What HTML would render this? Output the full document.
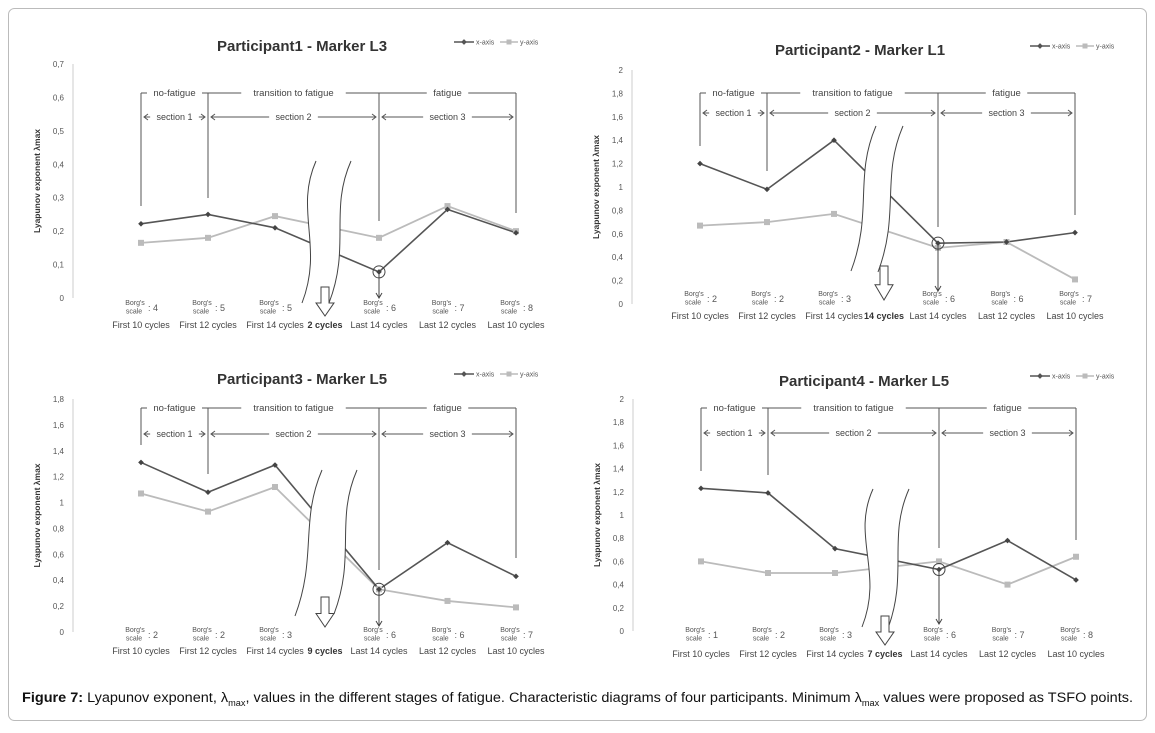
<!DOCTYPE html>
<html><head><meta charset="utf-8"><style>
html,body{margin:0;padding:0;background:#fff;}
svg{display:block;font-family:"Liberation Sans",sans-serif;}
</style></head><body>
<svg id="fig" width="1155" height="733" viewBox="0 0 1155 733" xmlns="http://www.w3.org/2000/svg">
<rect x="8.5" y="8.5" width="1138" height="712" rx="6" fill="#fff" stroke="#bbb"/>
<text x="22" y="702" font-size="14.2" fill="#111" textLength="1111" lengthAdjust="spacingAndGlyphs"><tspan font-weight="bold">Figure 7:</tspan> Lyapunov exponent, λ<tspan font-size="9" dy="4">max</tspan><tspan dy="-4">, values in the different stages of fatigue. Characteristic diagrams of four participants. Minimum λ</tspan><tspan font-size="9" dy="4">max</tspan><tspan dy="-4"> values were proposed as TSFO points.</tspan></text>
</svg>
<script>
// ---- data ----
const categories = ["First 10 cycles","First 12 cycles","First 14 cycles","BREAK","Last 14 cycles","Last 12 cycles","Last 10 cycles"];
const p1XAxis = [0.222, 0.25, 0.21, null, 0.078, 0.265, 0.195];
const p1YAxis = [0.165, 0.18, 0.245, null, 0.18, 0.275, 0.2];
const p2XAxis = [1.2, 0.98, 1.4, null, 0.52, 0.53, 0.61];
const p2YAxis = [0.67, 0.7, 0.77, null, 0.48, 0.53, 0.21];
const p3XAxis = [1.31, 1.08, 1.29, null, 0.33, 0.69, 0.43];
const p3YAxis = [1.07, 0.93, 1.12, null, 0.33, 0.24, 0.19];
const p4XAxis = [1.23, 1.19, 0.71, null, 0.53, 0.78, 0.44];
const p4YAxis = [0.6, 0.5, 0.5, null, 0.6, 0.4, 0.64];
const p1Borg = [4,5,5,null,6,7,8];
const p2Borg = [2,2,3,null,6,6,7];
const p3Borg = [2,2,3,null,6,6,7];
const p4Borg = [1,2,3,null,6,7,8];
const breakLabels = ["2 cycles","14 cycles","9 cycles","7 cycles"];
const titles = ["Participant1 - Marker L3","Participant2 - Marker L1","Participant3 - Marker L5","Participant4 - Marker L5"];
const yMaxes = [0.7, 2, 1.8, 2];
const ySteps = [0.1, 0.2, 0.2, 0.2];

// ---- layout (pixels) ----
const layouts = [
 {ax:73, yTop:64, y0:298, tx:302, ty:51, lx:454, ly:42, borgY:305, cycY:328, brTop:93, secY:117, vEnd:[206,198,221,213], arrowEnd:298, brk:{lt:[316,161],lb:[302,303],rt:[351,161],rb:[329,303],ay:[287,316]}},
 {ax:632, yTop:70, y0:304, tx:860, ty:55, lx:1030, ly:46, borgY:296, cycY:319, brTop:93, secY:113, vEnd:[146,171,227,215], arrowEnd:291, brk:{lt:[876,126],lb:[851,271],rt:[903,126],rb:[878,272],ay:[266,300]}},
 {ax:73, yTop:399, y0:632, tx:302, ty:384, lx:454, ly:374, borgY:632, cycY:654, brTop:408, secY:434, vEnd:[445,474,570,558], arrowEnd:626, brk:{lt:[322,470],lb:[295,616],rt:[357,470],rb:[334,614],ay:[597,627]}},
 {ax:633, yTop:399, y0:631, tx:864, ty:386, lx:1030, ly:376, borgY:632, cycY:657, brTop:408, secY:433, vEnd:[471,475,548,540], arrowEnd:624, brk:{lt:[873,489],lb:[862,627],rt:[909,489],rb:[887,631],ay:[616,645]}}
];
const xSeries = [p1XAxis,p2XAxis,p3XAxis,p4XAxis];
const ySeries = [p1YAxis,p2YAxis,p3YAxis,p4YAxis];
const borgs = [p1Borg,p2Borg,p3Borg,p4Borg];

const NS="http://www.w3.org/2000/svg";
const svg=document.getElementById('fig');
function mk(tag,attrs,parent,txt){const e=document.createElementNS(NS,tag);for(const k in attrs)e.setAttribute(k,attrs[k]);if(txt!==undefined)e.textContent=txt;(parent||svg).appendChild(e);return e;}

layouts.forEach((L,pi)=>{
  const g=mk('g',{});
  
  
  const xPos=i=> i<=2 ? L.ax+68+67*i : (i===3 ? L.ax+252 : L.ax+306+68.5*(i-4));
  const yPos=v=> L.y0-(v/yMaxes[pi])*(L.y0-L.yTop);
  // title
  const t=mk('text',{x:L.tx,y:L.ty,'text-anchor':'middle','font-size':15,'font-weight':'bold',fill:'#333'},g,titles[pi]);
  
  
  // axis
  const ax=mk('line',{x1:L.ax,y1:L.yTop,x2:L.ax,y2:L.y0,stroke:'#ccc','stroke-width':1},g);
  
  
  const n=Math.round(yMaxes[pi]/ySteps[pi]);
  for(let k=0;k<=n;k++){
    const v=k*ySteps[pi];
    const lbl=(Math.round(v*10)/10).toString().replace('.',',');
    const tk=mk('text',{x:L.ax-9,y:yPos(v)+3,'text-anchor':'end','font-size':8,fill:'#555'},g,lbl);
    
    
  }
  const ym=(L.yTop+L.y0)/2;
  const yl=mk('text',{x:L.ax-33,y:ym,'text-anchor':'middle','font-size':8.5,'font-weight':'bold',fill:'#333',transform:`rotate(-90 ${L.ax-33} ${ym})`},g,'Lyapunov exponent λmax');
  
  
  // legend
  const lg=mk('g',{},g);
  
  
  mk('line',{x1:L.lx,y1:L.ly,x2:L.lx+20,y2:L.ly,stroke:'#555','stroke-width':1.5},lg);
  mk('rect',{x:L.lx+8,y:L.ly-2,width:4,height:4,fill:'#555',transform:`rotate(45 ${L.lx+10} ${L.ly})`},lg);
  mk('text',{x:L.lx+22,y:L.ly+2.5,'font-size':7,fill:'#555'},lg,'x-axis');
  mk('line',{x1:L.lx+46,y1:L.ly,x2:L.lx+64,y2:L.ly,stroke:'#bbb','stroke-width':1.5},lg);
  mk('rect',{x:L.lx+52.5,y:L.ly-2.5,width:5,height:5,fill:'#bbb'},lg);
  mk('text',{x:L.lx+66,y:L.ly+2.5,'font-size':7,fill:'#555'},lg,'y-axis');
  // brackets
  const bx=[xPos(0),xPos(1),xPos(4),xPos(6)];
  const bg=mk('g',{stroke:'#555','stroke-width':1,fill:'none'},g);
  
  
  mk('line',{x1:bx[0],y1:L.brTop,x2:bx[3],y2:L.brTop},bg);
  bx.forEach((x,j)=>mk('line',{x1:x,y1:L.brTop,x2:x,y2:L.vEnd[j]},bg));
  // section arrows
  const secs=[[bx[0],bx[1],'section 1'],[bx[1],bx[2],'section 2'],[bx[2],bx[3],'section 3']];
  secs.forEach(([a,b,s],j)=>{
    mk('line',{x1:a+3,y1:L.secY,x2:b-3,y2:L.secY},bg);
    mk('path',{d:`M${a+7} ${L.secY-3}L${a+3} ${L.secY}L${a+7} ${L.secY+3}M${b-7} ${L.secY-3}L${b-3} ${L.secY}L${b-7} ${L.secY+3}`},bg);
    const w=s.length*4.3+10;
    mk('rect',{x:(a+b)/2-w/2,y:L.secY-6,width:w,height:12,fill:'#fff',stroke:'none'},g);
    const st=mk('text',{x:(a+b)/2,y:L.secY+3,'text-anchor':'middle','font-size':9,fill:'#444'},g,s);
    
    
  });
  const stages=[[bx[0],bx[1],'no-fatigue'],[bx[1],bx[2],'transition to fatigue'],[bx[2],bx[3],'fatigue']];
  stages.forEach(([a,b,s])=>{
    const w=s.length*4.5+10;
    mk('rect',{x:(a+b)/2-w/2,y:L.brTop-6,width:w,height:12,fill:'#fff'},g);
    const st=mk('text',{x:(a+b)/2,y:L.brTop+3,'text-anchor':'middle','font-size':9.5,fill:'#444'},g,s);
    
    
  });
  // series lines (through break)
  const line=(vals,color,w,name)=>{
    const pts=[];vals.forEach((v,i)=>{if(v!==null)pts.push(xPos(i)+','+yPos(v));});
    const pl=mk('polyline',{points:pts.join(' '),fill:'none',stroke:color,'stroke-width':w},g);
    
    
  };
  line(ySeries[pi],'#bbb',1.8,'y-axis-series-line');
  line(xSeries[pi],'#555',1.6,'x-axis-series-line');
  ySeries[pi].forEach((v,i)=>{if(v===null)return;
    const m=mk('rect',{x:xPos(i)-3,y:yPos(v)-3,width:6,height:6,fill:'#bbb'},g);
    
    });
  xSeries[pi].forEach((v,i)=>{if(v===null)return;
    const m=mk('rect',{x:xPos(i)-2,y:yPos(v)-2,width:4,height:4,fill:'#444',transform:`rotate(45 ${xPos(i)} ${yPos(v)})`},g);
    
    });
  // minimum marker + arrow
  const mx=xPos(4), my=yPos(xSeries[pi][4]);
  const c=mk('circle',{cx:mx,cy:my,r:6,fill:'none',stroke:'#444','stroke-width':1},g);
  
  
  mk('line',{x1:mx,y1:my,x2:mx,y2:L.arrowEnd,stroke:'#444','stroke-width':1},g);
  mk('path',{d:`M${mx-3} ${L.arrowEnd-5}L${mx} ${L.arrowEnd}L${mx+3} ${L.arrowEnd-5}`,fill:'none',stroke:'#444'},g);
  // break
  const B=L.brk;
  const cv=(t,b)=>{const h=b[1]-t[1];return `C${t[0]-22} ${t[1]+h*0.35} ${b[0]+22} ${b[1]-h*0.4} ${b[0]} ${b[1]}`;};
  const cvr=(t,b)=>{const h=b[1]-t[1];return `C${b[0]+22} ${b[1]-h*0.4} ${t[0]-22} ${t[1]+h*0.35} ${t[0]} ${t[1]}`;};
  mk('path',{d:`M${B.lt[0]} ${B.lt[1]} ${cv(B.lt,B.lb)} L${B.rb[0]} ${B.rb[1]} ${cvr(B.rt,B.rb)} Z`,fill:'#fff',stroke:'none'},g);
  const bk=mk('path',{d:`M${B.lt[0]} ${B.lt[1]} ${cv(B.lt,B.lb)} M${B.rt[0]} ${B.rt[1]} ${cv(B.rt,B.rb)}`,fill:'none',stroke:'#444','stroke-width':1},g);
  
  
  const ax3=xPos(3), a0=B.ay[0], a1=B.ay[1], ah=a0+(a1-a0)*0.55;
  const ar=mk('path',{d:`M${ax3-4} ${a0}L${ax3+4} ${a0}L${ax3+4} ${ah}L${ax3+9} ${ah}L${ax3} ${a1}L${ax3-9} ${ah}L${ax3-4} ${ah}Z`,fill:'#fff',stroke:'#444','stroke-width':1},g);
  
  
  // x labels
  categories.forEach((cat,i)=>{
    const x=xPos(i);
    if(i===3){
      const bl=mk('text',{x:x,y:L.cycY,'text-anchor':'middle','font-size':9,'font-weight':'bold',fill:'#333'},g,breakLabels[pi]);
      
      
      return;
    }
    const lg2=mk('g',{},g);
    
    
    mk('text',{x:x-6,y:L.borgY,'text-anchor':'middle','font-size':7,fill:'#555'},lg2,"Borg's");
    mk('text',{x:x-7,y:L.borgY+8.5,'text-anchor':'middle','font-size':7,fill:'#555'},lg2,"scale");
    mk('text',{x:x+7,y:L.borgY+6,'font-size':9,fill:'#555'},lg2,": "+borgs[pi][i]);
    mk('text',{x:x,y:L.cycY,'text-anchor':'middle','font-size':9,fill:'#444'},lg2,cat);
  });
});
</script>
</body></html>
